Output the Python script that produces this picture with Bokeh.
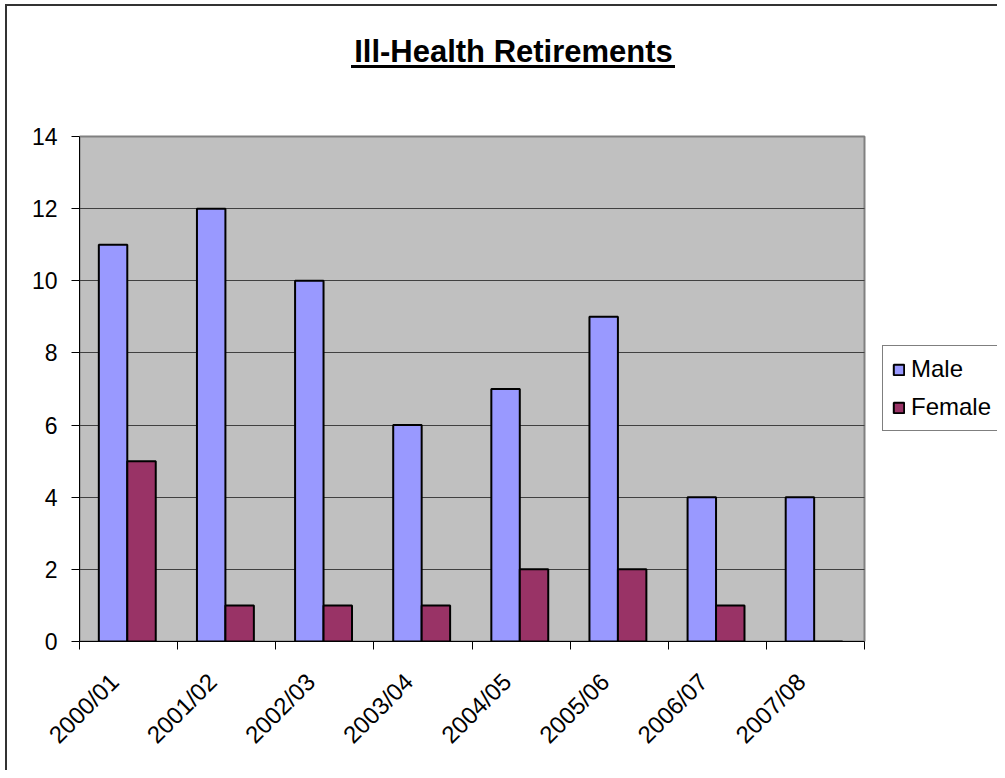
import numpy as np
from bokeh.plotting import figure
from bokeh.models import Range1d, FixedTicker, Legend, LegendItem, Label
from bokeh.embed import file_html
from bokeh.resources import INLINE

# ---- data ----
categories = ["2000/01", "2001/02", "2002/03", "2003/04", "2004/05", "2005/06", "2006/07", "2007/08"]
male = [11, 12, 10, 6, 7, 9, 4, 4]
female = [5, 1, 1, 1, 2, 2, 1, 0]
y_ticks = [0, 2, 4, 6, 8, 10, 12, 14]
title_text = "Ill-Health Retirements"

FONT = "Liberation Sans"
n = len(categories)
y_max = y_ticks[-1]
idx = np.arange(n)
bar_w = 0.29
x_male = idx + 0.342
x_female = idx + 0.632
label_pos = list(idx + 0.355)

# layout (pixels): plot area 785 x 505 at (79, 136); the frame also covers
# the title and legend space so annotations there are not clipped
W, H = 997, 770
PL, PT, PW, PH = 79, 136, 785, 505
frame_w = W - PL
frame_h = PT + PH
x_end = n * frame_w / PW
y_end = y_max * frame_h / PH

css = """
:host { position: relative; }
:host::before { content: ''; position: absolute; left: 5px; top: 4px; right: 0; bottom: 0;
  border-left: 2px solid #333333; border-top: 2px solid #333333;
  pointer-events: none; z-index: 10; }
:host::after { content: ''; position: absolute; left: 351px; top: 65px; width: 324px; height: 3px;
  background: black; pointer-events: none; z-index: 10; }
"""

p = figure(width=W, height=H,
           x_range=Range1d(0, x_end), y_range=Range1d(0, y_end),
           output_backend="svg", toolbar_location=None,
           min_border_left=PL, min_border_right=0,
           min_border_top=0, min_border_bottom=H - frame_h,
           background_fill_color="white", border_fill_color="white",
           stylesheets=[css])
p.outline_line_color = None

# plot area (gray) spanning the category/value extent
p.quad(left=[0], right=[n], bottom=[y_ticks[0]], top=[y_max],
       fill_color="#C0C0C0", line_color="#808080", line_width=2, level="image")

# grid
p.xgrid.visible = False
yg = p.ygrid[0]
yg.ticker = FixedTicker(ticks=y_ticks[1:-1])
yg.grid_line_color = "#404040"
yg.grid_line_width = 1
yg.cross_bounds = (0, n)

# y axis
ya = p.yaxis[0]
ya.ticker = FixedTicker(ticks=y_ticks)
ya.bounds = (y_ticks[0], y_max)
ya.axis_line_color = "black"
ya.major_tick_line_color = "black"
ya.major_tick_out = 8
ya.major_tick_in = 0
ya.minor_tick_line_color = None
ya.major_label_text_font = FONT
ya.major_label_text_font_size = "23px"
ya.major_label_text_color = "black"
ya.major_label_standoff = 14

# x axis
xa = p.xaxis[0]
xa.ticker = FixedTicker(ticks=label_pos, minor_ticks=list(range(n + 1)))
xa.bounds = (0, n)
xa.major_label_overrides = {float(v): c for v, c in zip(label_pos, categories)}
xa.axis_line_color = "black"
xa.major_tick_line_color = None
xa.major_tick_out = 0
xa.major_tick_in = 0
xa.minor_tick_line_color = "black"
xa.minor_tick_out = 8
xa.minor_tick_in = 0
xa.major_label_orientation = np.pi / 4
xa.major_label_text_font = FONT
xa.major_label_text_font_size = "24px"
xa.major_label_text_color = "black"
xa.major_label_standoff = 28

# bars
rm = p.vbar(x=x_male, top=male, width=bar_w, fill_color="#9999FF",
            line_color="black", line_width=2)
rf = p.vbar(x=x_female, top=female, width=bar_w, fill_color="#993366",
            line_color="black", line_width=2)

legend = Legend(items=[LegendItem(label="Male", renderers=[rm]),
                       LegendItem(label="Female", renderers=[rf])],
                location=(803, 210), margin=0, padding=9, spacing=10,
                glyph_width=13, glyph_height=13, label_standoff=6,
                label_text_font=FONT, label_text_font_size="24px",
                label_text_color="black",
                border_line_color="black", border_line_width=1,
                background_fill_color="white", background_fill_alpha=1)
p.add_layout(legend, "center")

# title
p.add_layout(Label(x=513 - PL, y=frame_h - 51, x_units="screen", y_units="screen",
                   text=title_text, text_align="center", text_baseline="alphabetic",
                   text_font=FONT, text_font_size="31px", text_font_style="bold",
                   text_color="black"))

open("out.html", "w").write(file_html(p, INLINE))
